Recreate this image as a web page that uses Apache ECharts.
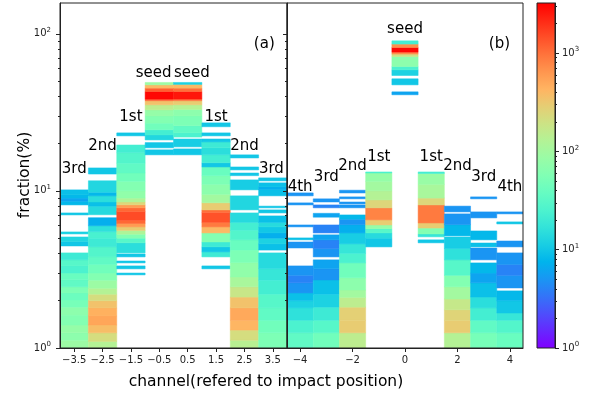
<!DOCTYPE html>
<html>
<head>
<meta charset="utf-8">
<script src="https://cdn.jsdelivr.net/npm/echarts@6/dist/echarts.min.js"></script>
<style>
html, body { margin: 0; padding: 0; background: #fff; }
#main { width: 592px; height: 396px; }
</style>
</head>
<body>
<div id="main"></div>
<script>
// histogram runs for each channel: [low %, high %, counts]
// panel (a)
var a_m35 = [[1, 1.12, 90], [1.12, 1.25, 70], [1.25, 1.4, 80], [1.4, 1.62, 60], [1.62, 1.82, 70], [1.82, 2.02, 50], [2.02, 2.24, 42], [2.24, 2.45, 55], [2.45, 2.72, 35], [2.72, 3.0, 40], [3.0, 3.33, 25], [3.33, 3.64, 30], [3.64, 4.03, 20],
    [4.46, 4.75, 10], [4.75, 5.09, 13], [5.32, 5.48, 12], [7.03, 7.24, 10], [8.14, 8.6, 8], [8.6, 9.0, 6], [9.0, 9.43, 8], [9.43, 10.15, 9]];
var a_m25 = [[1, 1.1, 130], [1.1, 1.25, 220], [1.25, 1.4, 380], [1.4, 1.6, 520], [1.6, 1.8, 450], [1.8, 2.0, 350], [2.0, 2.2, 220], [2.2, 2.4, 130], [2.4, 2.7, 90], [2.7, 3.0, 60], [3.0, 3.4, 45], [3.4, 3.8, 35], [3.8, 4.4, 28], [4.4, 5.0, 20], [5.0, 5.5, 24], [5.5, 6.0, 16], [6.0, 6.75, 7],
    [7.05, 8.0, 14], [8.0, 8.5, 9], [8.5, 9.3, 15], [9.3, 9.8, 8], [9.8, 11.6, 13], [12.8, 14.0, 10]];
var a_m15 = [[2.92, 3.0, 10], [3.19, 3.33, 10], [3.48, 3.58, 10], [3.8, 3.97, 10],
    [4.03, 4.67, 15], [4.67, 5.0, 30], [5.0, 5.3, 60], [5.3, 5.6, 120], [5.6, 5.9, 300], [5.9, 6.2, 600], [6.2, 6.5, 1100], [6.5, 7.4, 1500], [7.4, 7.8, 1100], [7.8, 8.15, 600], [8.15, 8.5, 250], [8.5, 9.0, 120], [9.0, 10, 75], [10, 11.5, 60], [11.5, 13, 45], [13, 15, 35], [15, 17.5, 28], [17.5, 19.6, 22],
    [22.4, 23.4, 10]];
var a_m05 = [[16.96, 18.25, 10], [18.8, 20.3, 10], [21.1, 22.7, 13], [22.7, 24.5, 22], [24.5, 27, 45], [27, 30, 60], [30, 32.8, 80], [32.8, 35.3, 150], [35.3, 37.5, 350], [37.5, 38.4, 1200], [38.4, 42.9, 3000], [42.9, 45.1, 1200], [45.1, 47.3, 400], [47.3, 49, 90]];
var a_p05 = [[16.96, 18.5, 10], [19.07, 21.4, 11], [22.0, 23.4, 25], [23.4, 26, 35], [26, 30, 55], [30, 33, 70], [33, 35.3, 130], [35.3, 37.5, 300], [37.5, 38.4, 1000], [38.4, 42.9, 2600], [42.9, 45.1, 1000], [45.1, 47.6, 400], [47.6, 49, 12]];
var a_p15 = [[3.19, 3.33, 10], [3.8, 4.09, 20], [4.09, 4.4, 10], [4.4, 4.73, 20], [4.73, 5.4, 60], [5.4, 5.9, 400], [5.9, 6.3, 900], [6.3, 7.3, 1400], [7.3, 7.57, 1000], [7.57, 8.4, 300], [8.4, 9.5, 100], [9.5, 11, 70], [11, 12.5, 55], [12.5, 14.2, 40], [14.2, 15.1, 10], [15.1, 17, 22], [17, 18.8, 15], [18.8, 20.5, 20], [20.5, 21.4, 10], [22.4, 23.4, 10], [25.6, 27.1, 10]];
var a_p25 = [[1, 1.12, 140], [1.12, 1.3, 220], [1.3, 1.5, 420], [1.5, 1.8, 500], [1.8, 2.11, 350], [2.11, 2.45, 180], [2.45, 2.83, 110], [2.83, 3.5, 75], [3.5, 4.2, 55], [4.2, 4.88, 40], [4.88, 5.6, 28], [5.6, 6.3, 22], [6.3, 7.24, 14], [7.57, 9.3, 13], [10.15, 11.75, 11], [12.5, 13.0, 10], [13.6, 14.2, 10], [16.2, 16.96, 10]];
var a_p35 = [[1, 1.25, 55], [1.25, 1.5, 45], [1.5, 1.8, 35], [1.8, 2.2, 30], [2.2, 2.7, 22], [2.7, 3.2, 18], [3.2, 4.03, 14], [4.2, 4.6, 9], [4.6, 5.0, 12], [5.0, 5.4, 7], [5.4, 5.9, 10], [5.9, 6.3, 14], [6.3, 6.93, 9], [7.24, 7.57, 10], [7.8, 8.0, 10], [9.3, 10.2, 9], [10.2, 10.6, 7], [10.6, 11.25, 9], [11.58, 12.1, 10]];

// panel (b)
var b_m4 = [[1, 1.25, 35], [1.25, 1.5, 25], [1.5, 1.8, 16], [1.8, 2.0, 12], [2.0, 2.24, 9], [2.24, 2.6, 5], [2.6, 2.9, 4], [2.9, 3.33, 5], [4.33, 4.73, 5], [4.88, 5.02, 9], [5.9, 6.07, 5], [8.14, 8.39, 5], [9.3, 9.71, 5]];
var b_m3 = [[1, 1.25, 45], [1.25, 1.5, 30], [1.5, 1.82, 20], [1.82, 2.2, 12], [2.2, 2.71, 9], [2.71, 3.2, 5], [3.2, 3.64, 6], [3.8, 4.3, 5], [4.3, 4.88, 4], [4.88, 5.25, 6], [5.4, 6.07, 4], [6.8, 7.2, 6], [7.8, 8.14, 4], [8.5, 8.9, 5]];
var b_m2 = [[1, 1.25, 150], [1.25, 1.5, 300], [1.5, 1.82, 280], [1.82, 2.1, 150], [2.1, 2.34, 100], [2.34, 2.8, 70], [2.8, 3.48, 45], [3.48, 4.0, 25], [4.0, 4.6, 18], [4.6, 5.4, 11], [5.4, 6.1, 7], [6.1, 6.6, 5], [6.6, 7.03, 8], [7.8, 8.14, 5], [8.26, 8.5, 5], [8.9, 9.16, 5], [9.7, 10.1, 5]];
var b_m1 = [[4.4, 5.0, 10], [5.0, 5.4, 14], [5.4, 5.75, 30], [5.75, 6.07, 80], [6.07, 6.54, 300], [6.54, 7.8, 800], [7.8, 8.76, 250], [8.76, 10, 130], [10, 11.5, 100], [11.5, 13.0, 80], [13.0, 13.2, 25]];
var b_0 = [[40.9, 42.7, 6], [47.3, 51.7, 10], [54.25, 59.0, 12], [59.0, 61.9, 25], [61.9, 71.7, 70], [71.7, 74.2, 200], [74.2, 76.4, 700], [76.4, 81.8, 3000], [81.8, 86.0, 700], [86.0, 90.2, 22]];
var b_p1 = [[4.67, 4.88, 10], [5.1, 5.32, 18], [5.32, 5.8, 60], [5.8, 6.25, 300], [6.25, 8.14, 900], [8.14, 9.0, 250], [9.0, 11.0, 110], [11.0, 12.9, 85], [12.9, 13.2, 22]];
var b_p2 = [[1, 1.25, 130], [1.25, 1.5, 300], [1.5, 1.75, 260], [1.75, 2.05, 170], [2.05, 2.45, 100], [2.45, 2.9, 60], [2.9, 3.64, 30], [3.64, 4.3, 16], [4.3, 5.09, 11], [5.17, 6.1, 8], [6.1, 7.14, 5], [7.35, 8.0, 5]];
var b_p3 = [[1, 1.25, 50], [1.25, 1.5, 35], [1.5, 1.8, 22], [1.8, 2.11, 15], [2.11, 2.6, 9], [2.6, 3.0, 6], [3.0, 3.48, 8], [3.64, 4.33, 5], [4.4, 4.66, 9], [4.88, 5.56, 8], [6.73, 7.35, 5], [8.9, 9.16, 5]];
var b_p4 = [[1, 1.25, 40], [1.25, 1.5, 28], [1.5, 1.67, 18], [1.67, 2.0, 10], [2.0, 2.31, 8], [2.41, 2.9, 5], [2.9, 3.4, 4], [3.4, 4.03, 5], [4.4, 4.8, 5], [6.16, 6.35, 10], [7.14, 7.35, 5]];

var channelsA = [-3.5, -2.5, -1.5, -0.5, 0.5, 1.5, 2.5, 3.5];
var binsA = [a_m35, a_m25, a_m15, a_m05, a_p05, a_p15, a_p25, a_p35];
var channelsB = [-4, -3, -2, -1, 0, 1, 2, 3, 4];
var binsB = [b_m4, b_m3, b_m2, b_m1, b_0, b_p1, b_p2, b_p3, b_p4];

// annotations (text, x, y in data units)
var labelsA = ['3rd', '2nd', '1st', 'seed', 'seed', '1st', '2nd', '3rd', '(a)'];
var labelXA = [-3.5, -2.5, -1.5, -0.7, 0.65, 1.5, 2.5, 3.45, 3.2];
var labelYA = [13.8, 19.4, 29.6, 56.5, 56.5, 29.6, 19.4, 13.8, 86];
var labelsB = ['4th', '3rd', '2nd', '1st', 'seed', '1st', '2nd', '3rd', '4th', '(b)'];
var labelXB = [-4, -3, -2, -1, 0, 1, 2, 3, 4, 3.6];
var labelYB = [10.6, 12.3, 14.4, 16.5, 107.6, 16.5, 14.4, 12.3, 10.6, 86];

var xTicksA = [-3.5, -2.5, -1.5, -0.5, 0.5, 1.5, 2.5, 3.5];
var xTicksB = [-4, -2, 0, 2, 4];
var yTicks = [1, 10, 100];
var yMinor = [2, 3, 4, 5, 6, 7, 8, 9, 20, 30, 40, 50, 60, 70, 80, 90];
var cbTicks = [1, 10, 100, 1000];
var cbMinor = [2, 3, 4, 5, 6, 7, 8, 9, 20, 30, 40, 50, 60, 70, 80, 90, 200, 300, 400, 500, 600, 700, 800, 900, 2000, 3000];
var yMax = 157;
var colorMax = 3240;

var FONT = '"DejaVu Sans", sans-serif';
var INK = '#222';

// matplotlib "rainbow" colormap
function rainbow(t) {
    t = Math.max(0, Math.min(1, t));
    var r = Math.min(1, Math.abs(2 * t - 0.5));
    var g = Math.sin(Math.PI * t);
    var b = Math.cos(Math.PI * t / 2);
    return 'rgb(' + Math.round(r * 255) + ',' + Math.round(g * 255) + ',' + Math.round(b * 255) + ')';
}
function countColor(c) {
    return rainbow(Math.log10(c) / Math.log10(colorMax));
}

function flatten(channels, bins) {
    var out = [];
    for (var i = 0; i < channels.length; i++) {
        for (var j = 0; j < bins[i].length; j++) {
            out.push([channels[i], bins[i][j][0], bins[i][j][1], bins[i][j][2]]);
        }
    }
    return out;
}

function renderBin(params, api) {
    var x = api.value(0);
    var p0 = api.coord([x - 0.5, api.value(2)]);
    var p1 = api.coord([x + 0.5, api.value(1)]);
    var col = countColor(api.value(3));
    return {
        type: 'rect',
        shape: { x: p0[0], y: p0[1], width: p1[0] - p0[0], height: p1[1] - p0[1] },
        style: { fill: col, stroke: col, lineWidth: 0.5 }
    };
}

function textSeries(gridIdx, xs, ys, texts) {
    return {
        type: 'custom',
        xAxisIndex: gridIdx,
        yAxisIndex: gridIdx * 2,
        clip: false,
        z: 20,
        data: xs.map(function (x, i) { return [x, ys[i]]; }),
        renderItem: function (params, api) {
            var p = api.coord([api.value(0), api.value(1)]);
            return {
                type: 'text',
                x: p[0], y: p[1],
                style: {
                    text: texts[params.dataIndex],
                    font: '15px ' + FONT,
                    fill: '#000',
                    textAlign: 'center',
                    textVerticalAlign: 'middle'
                }
            };
        }
    };
}

function powLabel(v) {
    return '{b|10}{s|' + Math.round(Math.log10(v)) + '}';
}
var powRich = {
    b: { fontSize: 10, fontFamily: FONT, color: INK },
    s: { fontSize: 7, fontFamily: FONT, color: INK, padding: [0, 0, 7, 0] }
};

function minusLabel(v) {
    return String(v).replace('-', '\u2212');
}

function yMajor(grid, max, ticks, pos, labels) {
    return {
        gridIndex: grid, type: 'log', logBase: 10, min: 1, max: max, position: pos, z: 10,
        axisLine: { show: true, onZero: false, lineStyle: { color: INK, width: 1 } },
        axisTick: { show: true, length: 4, customValues: ticks, lineStyle: { color: INK } },
        axisLabel: { show: labels, customValues: ticks, formatter: powLabel, rich: powRich, margin: pos === 'left' ? 9 : 7 },
        splitLine: { show: false }
    };
}
function yMinorAxis(grid, max, ticks, pos) {
    return {
        gridIndex: grid, type: 'log', logBase: 10, min: 1, max: max, position: pos, z: 10,
        axisLine: { show: false, onZero: false },
        axisTick: { show: true, length: 2, customValues: ticks, lineStyle: { color: INK } },
        axisLabel: { show: false },
        splitLine: { show: false }
    };
}
function xAxisFor(grid, min, max, ticks) {
    return {
        gridIndex: grid, type: 'value', min: min, max: max, z: 10,
        axisLine: { show: true, onZero: false, lineStyle: { color: INK, width: 1 } },
        axisTick: { show: true, length: 4, customValues: ticks, lineStyle: { color: INK } },
        axisLabel: { customValues: ticks, formatter: minusLabel, fontSize: 10, fontFamily: FONT, color: INK, margin: 7 },
        splitLine: { show: false }
    };
}

var gridStyle = { show: true, borderColor: INK, borderWidth: 1, backgroundColor: 'transparent', z: 10 };

var cbStops = [];
for (var k = 0; k <= 20; k++) {
    cbStops.push({ offset: k / 20, color: rainbow(k / 20) });
}

var chart = echarts.init(document.getElementById('main'), null, { renderer: 'canvas' });
chart.setOption({
    animation: false,
    backgroundColor: '#fff',
    grid: [
        Object.assign({ left: 60, top: 3, width: 227, height: 345 }, gridStyle),
        Object.assign({ left: 287, top: 3, width: 236, height: 345 }, gridStyle),
        Object.assign({ left: 537, top: 3, width: 18, height: 345 }, gridStyle)
    ],
    xAxis: [
        xAxisFor(0, -4, 4, xTicksA),
        xAxisFor(1, -4.5, 4.5, xTicksB),
        { gridIndex: 2, type: 'value', min: 0, max: 1, show: false }
    ],
    yAxis: [
        yMajor(0, yMax, yTicks, 'left', true),
        yMinorAxis(0, yMax, yMinor, 'left'),
        yMajor(1, yMax, yTicks, 'left', false),
        yMinorAxis(1, yMax, yMinor, 'left'),
        yMajor(2, colorMax, cbTicks, 'right', true),
        yMinorAxis(2, colorMax, cbMinor, 'right')
    ],
    graphic: [
        {
            type: 'text', x: 266, y: 382,
            style: { text: 'channel(refered to impact position)', font: '15.5px ' + FONT, fill: '#000', textAlign: 'center', textVerticalAlign: 'middle' }
        },
        {
            type: 'text', x: 25, y: 175, rotation: Math.PI / 2,
            style: { text: 'fraction(%)', font: '15.5px ' + FONT, fill: '#000', textAlign: 'center', textVerticalAlign: 'middle' }
        }
    ],
    series: [
        {
            type: 'custom', xAxisIndex: 0, yAxisIndex: 0, clip: true, z: 2,
            encode: { x: 0, y: [1, 2] },
            data: flatten(channelsA, binsA),
            renderItem: renderBin
        },
        {
            type: 'custom', xAxisIndex: 1, yAxisIndex: 2, clip: true, z: 2,
            encode: { x: 0, y: [1, 2] },
            data: flatten(channelsB, binsB),
            renderItem: renderBin
        },
        {
            // colour bar
            type: 'custom', xAxisIndex: 2, yAxisIndex: 4, clip: true, z: 2,
            data: [[0, 1, colorMax]],
            renderItem: function (params, api) {
                var p0 = api.coord([0, api.value(2)]);
                var p1 = api.coord([1, api.value(1)]);
                return {
                    type: 'rect',
                    shape: { x: p0[0], y: p0[1], width: p1[0] - p0[0], height: p1[1] - p0[1] },
                    style: { fill: new echarts.graphic.LinearGradient(0, 1, 0, 0, cbStops) }
                };
            }
        },
        textSeries(0, labelXA, labelYA, labelsA),
        textSeries(1, labelXB, labelYB, labelsB)
    ]
});
</script>
</body>
</html>
